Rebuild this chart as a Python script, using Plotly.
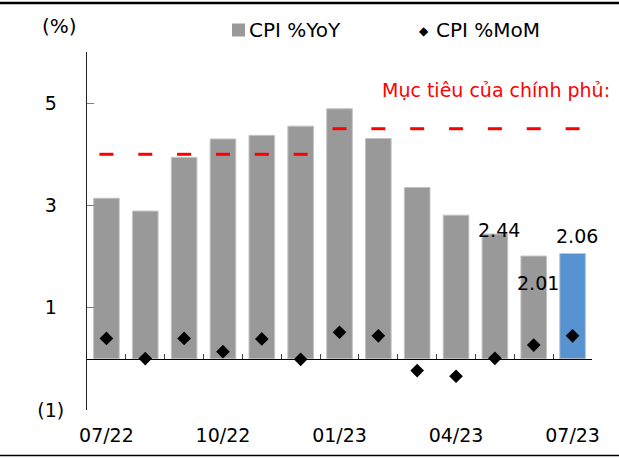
import plotly.graph_objects as go

# Monthly CPI, Jul-2022 .. Jul-2023
months = ["07/22", "08/22", "09/22", "10/22", "11/22", "12/22", "01/23",
          "02/23", "03/23", "04/23", "05/23", "06/23", "07/23"]
cpi_yoy = [3.14, 2.89, 3.94, 4.30, 4.37, 4.55, 4.89, 4.31, 3.35, 2.81, 2.44, 2.01, 2.06]
cpi_mom = [0.40, 0.005, 0.40, 0.14, 0.39, -0.01, 0.52, 0.45, -0.23, -0.34, 0.01, 0.27, 0.45]
target = [4.0, 4.0, 4.0, 4.0, 4.0, 4.0, 4.5, 4.5, 4.5, 4.5, 4.5, 4.5, 4.5]
shown_ticks = ["07/22", "10/22", "01/23", "04/23", "07/23"]
labelled = {"05/23": 4, "06/23": -27, "07/23": 17.5}   # month -> vertical offset of its value label

FONT = "DejaVu Sans"
FS = 19
GREY = "#999999"
BLUE = "#5792D1"

W, H = 619, 458
L, R, T, B = 87, 27, 52, 48
PW, PH = W - L - R, H - T - B


def fx(px):
    return (px - L) / PW


def fy(py):
    return (H - B - py) / PH


bar_colors = [GREY] * (len(months) - 1) + [BLUE]

fig = go.Figure()
fig.add_trace(go.Bar(
    x=months, y=cpi_yoy, marker=dict(color=bar_colors, line=dict(color="#C4C4C4", width=1)),
    showlegend=False, hoverinfo="skip"))
fig.add_trace(go.Scatter(
    x=months, y=target, mode="markers",
    marker=dict(symbol="line-ew", size=10, line=dict(color="#FF0000", width=3)),
    showlegend=False, hoverinfo="skip"))
fig.add_trace(go.Scatter(
    x=months, y=cpi_mom, mode="markers", xaxis="x2",
    marker=dict(symbol="diamond", size=10.5, color="black"),
    showlegend=False, hoverinfo="skip"))

for m, dy in labelled.items():
    i = months.index(m)
    fig.add_annotation(x=m, y=cpi_yoy[i], text=f"{cpi_yoy[i]:.2f}", showarrow=False,
                       xshift=4, yshift=dy, yanchor="middle",
                       font=dict(family=FONT, size=FS, color="black"))

ann_font = dict(family=FONT, size=20, color="black")
fig.add_annotation(x=fx(59), y=fy(26), xref="paper", yref="paper", text="(%)",
                   showarrow=False, xanchor="center", yanchor="middle", font=ann_font)
fig.add_annotation(x=fx(247), y=fy(30), xref="paper", yref="paper", text="CPI %YoY",
                   showarrow=False, xanchor="left", yanchor="middle", font=ann_font)
fig.add_annotation(x=fx(434), y=fy(30), xref="paper", yref="paper", text="CPI %MoM",
                   showarrow=False, xanchor="left", yanchor="middle", font=ann_font)
fig.add_annotation(x=fx(423.5), y=fy(31), xref="paper", yref="paper", text="◆",
                   showarrow=False, xanchor="center", yanchor="middle",
                   font=dict(family=FONT, size=12, color="black"))
fig.add_annotation(x=fx(380), y=fy(90), xref="paper", yref="paper",
                   text="Mục tiêu của chính phủ:", showarrow=False,
                   xanchor="left", yanchor="middle",
                   font=dict(family=FONT, size=FS, color="#FF0000"))

# legend swatch and frame rules
fig.add_shape(type="rect", xref="paper", yref="paper", x0=fx(232), x1=fx(245),
              y0=fy(36.5), y1=fy(23.5), fillcolor=GREY, line=dict(width=0))
fig.add_shape(type="line", xref="paper", yref="paper", x0=fx(0), x1=fx(W),
              y0=fy(3), y1=fy(3), line=dict(color="black", width=2.5))
fig.add_shape(type="line", xref="paper", yref="paper", x0=fx(0), x1=fx(W),
              y0=fy(455.5), y1=fy(455.5), line=dict(color="black", width=1.5))

ymin, ymax = -1, 6
hidden = "<span style='color:rgba(0,0,0,0)'>)</span>"
fig.update_layout(
    width=W, height=H, margin=dict(l=L, r=R, t=T, b=B),
    paper_bgcolor="white", plot_bgcolor="white",
    bargap=0.34,
    font=dict(family=FONT, size=FS, color="black"),
    xaxis=dict(type="category", categoryarray=months, range=[-0.5, len(months) - 0.5],
               showline=False, showgrid=False, zeroline=False, ticks="",
               tickmode="array", tickvals=shown_ticks, ticktext=shown_ticks,
               ticklabelstandoff=12, tickfont=dict(family=FONT, size=FS)),
    xaxis2=dict(type="category", categoryarray=months, range=[-0.5, len(months) - 0.5],
                overlaying="x", anchor="free", position=(0 - ymin) / (ymax - ymin),
                showline=True, linecolor="black", linewidth=1.3,
                ticks="inside", tickson="boundaries", ticklen=5, tickcolor="#404040",
                showticklabels=False, showgrid=False, zeroline=False),
    yaxis=dict(range=[ymin, ymax], showgrid=False, zeroline=False,
               showline=True, linecolor="#202020", linewidth=1,
               ticks="inside", ticklen=7, tickcolor="#7F7F7F",
               tickmode="array", tickvals=[-1, 1, 3, 5],
               ticktext=["(1)", "1" + hidden, "3" + hidden, "5" + hidden],
               ticklabelstandoff=18, tickfont=dict(family=FONT, size=FS)),
)

fig.write_html("out.html")
